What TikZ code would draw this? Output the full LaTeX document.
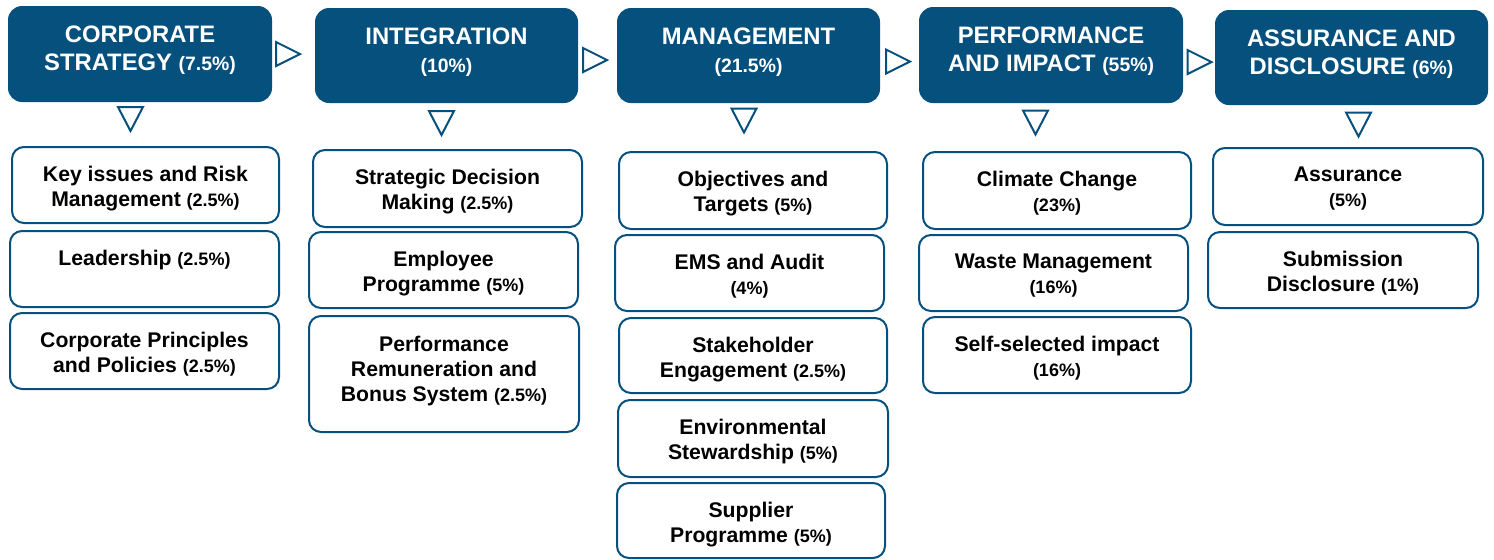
\documentclass[tikz,border=0pt]{standalone}
\usepackage{fontspec}
\setmainfont{Liberation Sans}
\usepackage{tikz}
\usetikzlibrary{calc,fit}
\definecolor{saBlue}{RGB}{5,80,125}
\newcommand{\hpc}[1]{{\fontsize{9.7}{13.5}\selectfont(#1\%)}}
\newcommand{\spc}[1]{{\fontsize{9}{12.5}\selectfont(#1\%)}}
\tikzset{
	hdbox/.style={fill=saBlue, rounded corners=7pt, inner sep=0pt},
	subbox/.style={draw=saBlue, line width=1pt, rounded corners=6pt, inner sep=0pt, fill=white},
	hdtext/.style={anchor=north, inner sep=0pt, align=center, text=white, font=\fontsize{11.9}{13.7}\selectfont\bfseries},
	subtext/.style={anchor=north, inner sep=0pt, align=center, font=\fontsize{10.6}{12.5}\selectfont\bfseries},
	tri/.style={draw=saBlue, line width=1pt, fill=white, line join=miter},
	rtri/.pic={\draw[tri] (-12,-12) -- (12,0) -- (-12,12) -- cycle;},
	dtri/.pic={\draw[tri] (-12.5,-12) -- (12.5,-12) -- (0,12) -- cycle;}
}

\begin{document}
\begin{tikzpicture}[x=0.5pt, y=-0.5pt]
	\useasboundingbox (0,0) rectangle (1494,559);

	% headers
	\node[hdbox, fit={(8,6) (272,102)}] (cs) {};
	\node[hdbox, fit={(315,8) (578,103)}] (in) {};
	\node[hdbox, fit={(617,8) (880,103)}] (mg) {};
	\node[hdbox, fit={(919,7) (1183,103)}] (pi) {};
	\node[hdbox, fit={(1215,10) (1488,105)}] (ad) {};

	\node[hdtext] (cst) at ($(cs.north)+(0,20)$) {CORPORATE\\STRATEGY \hpc{7.5}};
	\node[hdtext] (int) at ($(in.north)+(0,20)$) {INTEGRATION\\\hpc{10}};
	\node[hdtext] (mgt) at ($(mg.north)+(0,20)$) {MANAGEMENT\\\hpc{21.5}};
	\node[hdtext] (pit) at ($(pi.north)+(0,20)$) {PERFORMANCE\\AND IMPACT \hpc{55}};
	\node[hdtext] (adt) at ($(ad.north)+(0,20)$) {ASSURANCE AND\\DISCLOSURE \hpc{6}};

	\pic at (288,54) {rtri};
	\pic at (595,60) {rtri};
	\pic at (898,61.5) {rtri};
	\pic at (1199.5,62) {rtri};

	\pic at (130.5,119) {dtri};
	\pic at (441.5,123) {dtri};
	\pic at (744,120.5) {dtri};
	\pic at (1035.5,122.5) {dtri};
	\pic at (1358.5,124.5) {dtri};

	% corporate strategy
	\node[subbox, fit={(12,147) (279,223)}] (ki) {};
	\node[subbox, fit={(10,231) (279,307)}] (ld) {};
	\node[subbox, fit={(10,313) (279,389)}] (cp) {};
	\node[subtext] (kit) at ($(ki.north)+(0,19.5)$) {Key issues and Risk\\Management \spc{2.5}};
	\node[subtext] (ldt) at ($(ld.north)+(0,19.5)$) {Leadership \spc{2.5}};
	\node[subtext] (cpt) at ($(cp.north)+(0,19.5)$) {Corporate Principles\\and Policies \spc{2.5}};

	% integration
	\node[subbox, fit={(313,150) (582,227)}] (sd) {};
	\node[subbox, fit={(309,232) (578,308)}] (ep) {};
	\node[subbox, fit={(309,316) (579,432)}] (pr) {};
	\node[subtext] (sdt) at ($(sd.north)+(0,19.5)$) {Strategic Decision\\Making \spc{2.5}};
	\node[subtext] (ept) at ($(ep.north)+(0,19.5)$) {Employee\\Programme \spc{5}};
	\node[subtext] (prt) at ($(pr.north)+(0,20.5)$) {Performance\\Remuneration and\\Bonus System \spc{2.5}};

	% management
	\node[subbox, fit={(619,152) (887,229)}] (ot) {};
	\node[subbox, fit={(615,235) (884,311)}] (em) {};
	\node[subbox, fit={(619,318) (887,393)}] (sh) {};
	\node[subbox, fit={(618,400) (888,477)}] (es) {};
	\node[subbox, fit={(617,483) (885,558)}] (sp) {};
	\node[subtext] (ott) at ($(ot.north)+(0,19.5)$) {Objectives and\\Targets \spc{5}};
	\node[subtext] (emt) at ($(em.north)+(0,19.5)$) {EMS and Audit\\\spc{4}};
	\node[subtext] (sht) at ($(sh.north)+(0,19.5)$) {Stakeholder\\Engagement \spc{2.5}};
	\node[subtext] (est) at ($(es.north)+(0,19.5)$) {Environmental\\Stewardship \spc{5}};
	\node[subtext] (spt) at ($(sp.north)+(0,19.5)$) {Supplier\\Programme \spc{5}};

	% performance and impact
	\node[subbox, fit={(923,152) (1191,229)}] (cc) {};
	\node[subbox, fit={(919,235) (1188,311)}] (wm) {};
	\node[subbox, fit={(923,317) (1191,393)}] (ss) {};
	\node[subtext] (cct) at ($(cc.north)+(0,19.5)$) {Climate Change\\\spc{23}};
	\node[subtext] (wmt) at ($(wm.north)+(0,19.5)$) {Waste Management\\\spc{16}};
	\node[subtext] (sst) at ($(ss.north)+(0,19.5)$) {Self-selected impact\\\spc{16}};

	% assurance and disclosure
	\node[subbox, fit={(1213,148) (1483,225)}] (as) {};
	\node[subbox, fit={(1208,232) (1478,308)}] (sb) {};
	\node[subtext] (ast) at ($(as.north)+(0,19.5)$) {Assurance\\\spc{5}};
	\node[subtext] (sbt) at ($(sb.north)+(0,19.5)$) {Submission\\Disclosure \spc{1}};
\end{tikzpicture}
\end{document}
